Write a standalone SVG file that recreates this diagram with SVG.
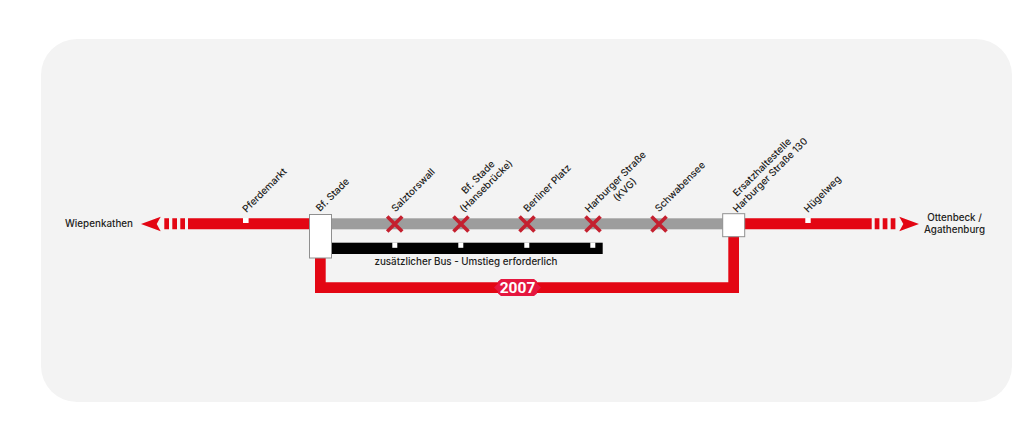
<svg xmlns="http://www.w3.org/2000/svg" width="1024" height="427" viewBox="0 0 1024 427">
<style>
.t{font-family:Inter,"Liberation Sans",sans-serif;font-size:9.8px;font-weight:500;fill:#1d1d1b}
.r{fill:#e30613}.w{fill:#fff}.b{fill:#fff;stroke:#8f8f8f;stroke-width:1}
.x{stroke:#c4202f;stroke-width:3.6;fill:none}
</style>
<defs><path id="cross" class="x" d="M-7.500-7.500 7.500 7.500M-7.500 7.500 7.500-7.500"/></defs>
<rect width="1024" height="427" fill="#fff"/>
<rect x="41" y="39" width="971" height="363" rx="36" fill="#f3f3f3"/>
<g id="connectors">
<rect x="331" y="218.300" width="392" height="11" fill="#9d9d9d"/>
<rect x="331" y="242.700" width="271.700" height="11.300" fill="#000"/>
<path class="r" d="M188 218.300H310V229.300H188ZM164.300 218.300h4.700v11h-4.700ZM172.300 218.300h4.700v11h-4.700ZM180.300 218.300h4.700v11h-4.700ZM141 224l19.700-7.300-4 7.300 4 7.300Z"/>
<path class="r" d="M744 218.300H871.700V229.300H744ZM874.700 218.300h4.700v11h-4.700ZM882.700 218.300h4.700v11h-4.700ZM890.700 218.300h4.700v11h-4.700ZM919 224l-19.700-7.300 4 7.300-4 7.300Z"/>
<path class="r" d="M315 257H325.700V282.300H728.300V236H739V293H315Z"/>
</g>
<g id="ticks" class="w">
<rect x="243" y="218" width="5.600" height="5"/><rect x="805.300" y="218" width="5.400" height="5"/>
<rect x="392.300" y="242.500" width="5" height="5.300"/><rect x="458.300" y="242.500" width="5" height="5.300"/><rect x="524.300" y="242.500" width="5" height="5.300"/><rect x="590.300" y="242.500" width="5" height="5.300"/>
</g>
<g id="wiepenkathen"><text class="t" x="65" y="226.500" textLength="68">Wiepenkathen</text></g>
<g id="pferdemarkt"><text class="t" transform="translate(246.500 213) rotate(-45)">Pferdemarkt</text></g>
<g id="bf-stade"><rect class="b" x="309.500" y="214.500" width="22" height="43.500"/><text class="t" transform="translate(320 212) rotate(-45)">Bf. Stade</text></g>
<g id="salztorswall"><use href="#cross" x="394.700" y="224"/><text class="t" transform="translate(395.500 212.500) rotate(-45)">Salztorswall</text></g>
<g id="hansebruecke"><use href="#cross" x="461" y="224"/><text class="t" transform="translate(465.500 194.500) rotate(-45)">Bf. Stade</text><text class="t" transform="translate(464 213) rotate(-45)">(Hansebrücke)</text></g>
<g id="berliner-platz"><use href="#cross" x="527" y="224"/><text class="t" transform="translate(527.500 212.500) rotate(-45)">Berliner Platz</text></g>
<g id="harburger"><use href="#cross" x="593" y="224"/><text class="t" transform="translate(589 213) rotate(-45)">Harburger Straße</text><text class="t" transform="translate(617.500 202) rotate(-45)">(KVG)</text></g>
<g id="schwabensee"><use href="#cross" x="659" y="224"/><text class="t" transform="translate(659 212.500) rotate(-45)">Schwabensee</text></g>
<g id="ersatz"><rect class="b" x="722.700" y="213.700" width="22" height="23"/><text class="t" transform="translate(737 197) rotate(-45)">Ersatzhaltestelle</text><text class="t" transform="translate(737 213) rotate(-45)">Harburger Straße 130</text></g>
<g id="huegelweg"><text class="t" transform="translate(808 213) rotate(-45)">Hügelweg</text></g>
<g id="ottenbeck"><text class="t" text-anchor="middle" x="954.500" y="221">Ottenbeck /</text><text class="t" text-anchor="middle" x="954.500" y="233">Agathenburg</text></g>
<g id="bus-label"><text class="t" x="374.500" y="264.500" textLength="183">zusätzlicher Bus - Umstieg erforderlich</text></g>
<g id="line-2007"><path d="M494 287.500l4-4v-2l3-2.500h33l3 2.500v2l4 4-4 4v2l-3 2.500h-33l-3-2.500v-2Z" fill="#e5173f"/><text x="517.500" y="293" text-anchor="middle" font-family="Roboto,'Liberation Sans',sans-serif" font-weight="700" font-size="15.500" fill="#fff">2007</text></g>
</svg>
